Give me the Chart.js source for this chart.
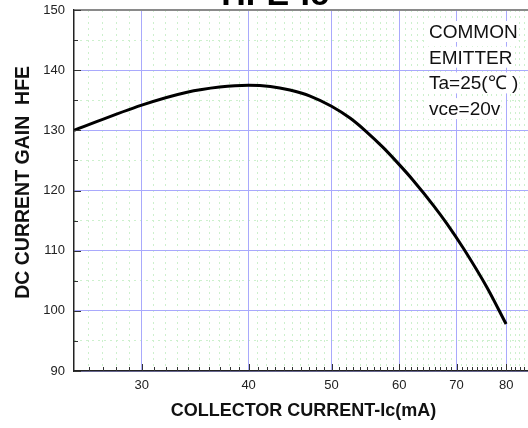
<!DOCTYPE html>
<html>
<head>
<meta charset="utf-8">
<script src="https://cdn.jsdelivr.net/npm/chart.js@4"></script>
<style>
    html, body { margin: 0; padding: 0; background: #fff; overflow: hidden; }
    #wrap { width: 536px; height: 428px; }
</style>
</head>
<body>
<div id="wrap"><canvas id="hfeChart"></canvas></div>
<script>
// HFE vs collector current
const currentMA = [25, 30, 33.8, 37, 40, 42.4, 44.7, 47.2, 50, 52.6, 54.9, 57.4, 60, 62.2, 65.8, 68.2, 71.3, 75.9, 80];
const hfeValues = [130, 134.2, 136.3, 137.2, 137.5, 137.3, 136.7, 135.7, 134, 132, 129.8, 127.2, 124.3, 121.8, 117.5, 114.5, 110.4, 104, 97.8];
const xTickValues = [30, 40, 50, 60, 70, 80];
const yTickValues = [90, 100, 110, 120, 130, 140, 150];
const yMinorValues = [95, 105, 115, 125, 135, 145];
const noteLines = ['COMMON', 'EMITTER', 'Ta=25(℃ )', 'vce=20v'];
const chartTitle = 'HFE-Ic';

const X_MIN = 25, X_MAX = 86;
const FONT = '"Liberation Sans", Arial, sans-serif';

// minor grid every 1 mA
const xMinorValues = [];
for (let v = 26; v < X_MAX; v++) {
    if (v % 10 !== 0) xMinorValues.push(v);
}

const BLUE = '#a9a9fc';
const GREEN = '#cdf0cd';

// small inward tick marks on both axes
const innerTicks = {
    id: 'innerTicks',
    afterDatasetsDraw(chart) {
        const { ctx, chartArea: a, scales: { x, y } } = chart;
        ctx.save();
        ctx.strokeStyle = '#333';
        ctx.lineWidth = 1;
        ctx.beginPath();
        xMinorValues.forEach(v => {
            const px = Math.round(x.getPixelForValue(v)) + 0.5;
            ctx.moveTo(px, a.bottom); ctx.lineTo(px, a.bottom - 4);
        });
        xTickValues.forEach(v => {
            const px = Math.round(x.getPixelForValue(v)) + 0.5;
            ctx.moveTo(px, a.bottom); ctx.lineTo(px, a.bottom - 7);
        });
        yMinorValues.forEach(v => {
            const py = Math.round(y.getPixelForValue(v)) + 0.5;
            ctx.moveTo(a.left, py); ctx.lineTo(a.left + 4, py);
        });
        yTickValues.forEach(v => {
            const py = Math.round(y.getPixelForValue(v)) + 0.5;
            ctx.moveTo(a.left, py); ctx.lineTo(a.left + 7, py);
        });
        ctx.stroke();
        ctx.restore();
    }
};

// cut-off title and the test condition note
const textBits = {
    id: 'textBits',
    afterDraw(chart) {
        const ctx = chart.ctx;
        ctx.save();
        ctx.fillStyle = '#000';
        ctx.font = 'bold 34px ' + FONT;
        ctx.textAlign = 'center';
        ctx.textBaseline = 'alphabetic';
        ctx.fillText(chartTitle, 275, 5);

        ctx.font = '19px ' + FONT;
        ctx.textAlign = 'left';
        noteLines.forEach((line, i) => {
            const base = 38 + i * 25.7;
            const w = ctx.measureText(line).width;
            ctx.fillStyle = '#fff';
            ctx.fillRect(428, base - 17, w + 2, 21);
            ctx.fillStyle = '#111';
            ctx.fillText(line, 429, base);
        });
        ctx.restore();
    }
};

const ctx = document.getElementById('hfeChart');
new Chart(ctx, {
    type: 'line',
    data: {
        datasets: [{
            data: currentMA.map((x, i) => ({ x: x, y: hfeValues[i] })),
            borderColor: '#000',
            borderWidth: 3,
            pointRadius: 0,
            cubicInterpolationMode: 'monotone',
            xAxisID: 'x',
            yAxisID: 'y'
        }]
    },
    options: {
        responsive: true,
        maintainAspectRatio: false,
        animation: false,
        layout: { autoPadding: false, padding: { top: 10, right: 3, left: 0, bottom: 0 } },
        plugins: {
            legend: { display: false },
            tooltip: { enabled: false }
        },
        scales: {
            xm: {
                type: 'logarithmic',
                min: X_MIN,
                max: X_MAX,
                position: 'bottom',
                afterBuildTicks: s => { s.ticks = xMinorValues.map(v => ({ value: v })); },
                afterFit: s => { s.height = 0; s.paddingLeft = 0; s.paddingRight = 0; },
                ticks: { display: false },
                grid: { color: GREEN, lineWidth: 1, drawTicks: false, z: -2 },
                border: { display: false, dash: [2, 4] }
            },
            ym: {
                type: 'linear',
                min: 90,
                max: 150,
                position: 'left',
                afterBuildTicks: s => { s.ticks = yMinorValues.map(v => ({ value: v })); },
                afterFit: s => { s.width = 0; s.paddingTop = 0; s.paddingBottom = 0; },
                ticks: { display: false },
                grid: { color: GREEN, lineWidth: 1, drawTicks: false, z: -2 },
                border: { display: false, dash: [2, 4] }
            },
            x: {
                type: 'logarithmic',
                min: X_MIN,
                max: X_MAX,
                position: 'bottom',
                afterBuildTicks: s => { s.ticks = xTickValues.map(v => ({ value: v })); },
                afterFit: s => { s.height = 57; s.paddingLeft = 0; s.paddingRight = 0; },
                ticks: {
                    autoSkip: false,
                    maxRotation: 0,
                    padding: 7,
                    color: '#222',
                    font: { family: FONT, size: 13 },
                    callback: v => String(v)
                },
                grid: { color: BLUE, lineWidth: 1, drawTicks: false, z: -1 },
                border: { display: true, color: '#222', width: 1.5 },
                title: {
                    display: true,
                    text: 'COLLECTOR CURRENT-Ic(mA)',
                    color: '#111',
                    font: { family: FONT, size: 18, weight: 'bold' },
                    padding: { top: 4, bottom: 6 }
                }
            },
            y: {
                type: 'linear',
                min: 90,
                max: 150,
                position: 'left',
                afterBuildTicks: s => { s.ticks = yTickValues.map(v => ({ value: v })); },
                afterFit: s => { s.width = 74; s.paddingTop = 0; s.paddingBottom = 0; },
                ticks: {
                    padding: 9,
                    color: '#222',
                    font: { family: FONT, size: 13 }
                },
                grid: {
                    color: c => (c.tick && c.tick.value === 150) ? '#8a8a8a' : BLUE,
                    lineWidth: c => (c.tick && c.tick.value === 150) ? 2 : 1,
                    drawTicks: false,
                    z: -1
                },
                border: { display: true, color: '#222', width: 1.5 },
                title: {
                    display: true,
                    text: '   DC CURRENT GAIN  HFE',
                    color: '#111',
                    font: { family: FONT, size: 19.5, weight: 'bold' },
                    padding: { top: 12, bottom: 0 }
                }
            }
        }
    },
    plugins: [innerTicks, textBits]
});
</script>
</body>
</html>
